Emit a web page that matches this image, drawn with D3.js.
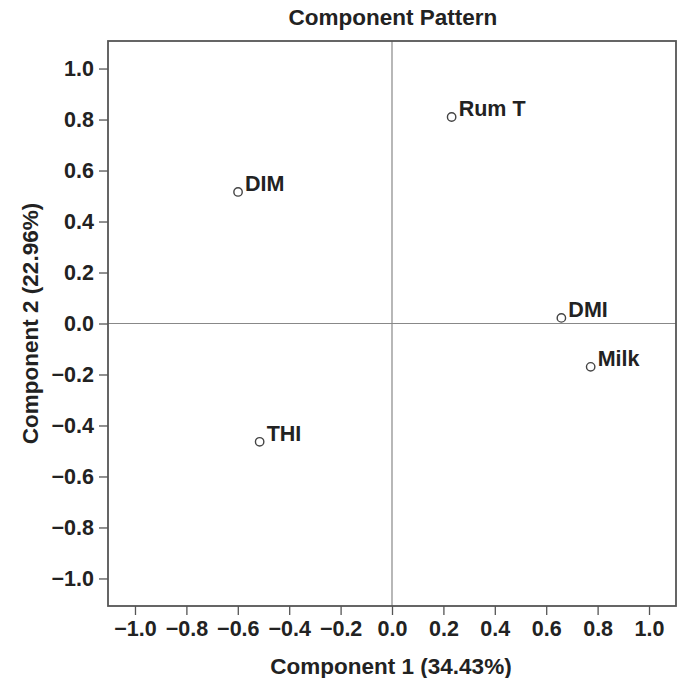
<!DOCTYPE html>
<html>
<head>
<meta charset="utf-8">
<script src="https://cdn.jsdelivr.net/npm/d3@7"></script>
<style>
  body { margin: 0; background: #fff; }
  text { font-family: "Liberation Sans", Arial, sans-serif; font-weight: bold; fill: #222; }
</style>
</head>
<body>
<svg id="chart" width="677" height="678"></svg>
<script>
// variables and their loadings on the first two components
var variables = ["Rum T", "DIM", "DMI", "Milk", "THI"]
var comp1 = [0.232, -0.599, 0.659, 0.773, -0.515]
var comp2 = [0.810, 0.516, 0.022, -0.170, -0.464]
var tickValues = [-1.0, -0.8, -0.6, -0.4, -0.2, 0.0, 0.2, 0.4, 0.6, 0.8, 1.0]

var svg = d3.select("#chart"),
    margin = {top: 41, right: 1, bottom: 72, left: 108},
    width = +svg.attr("width") - margin.left - margin.right,
    height = +svg.attr("height") - margin.top - margin.bottom

var g = svg.append("g")
    .attr("transform", translate(margin.left, margin.top))

var x = d3.scaleLinear()
    .domain([-1.105, 1.105])
    .range([0, width])

var y = d3.scaleLinear()
    .domain([-1.108, 1.108])
    .range([height, 0])

var fmt = function (d) { return d3.format(".1f")(d).replace("-", "\u2013") }

// axes
var xAxis = g.append("g")
    .attr("transform", translate(0, height))
    .call(d3.axisBottom(x).tickValues(tickValues).tickFormat(fmt).tickSize(9).tickPadding(6).tickSizeOuter(0))

var yAxis = g.append("g")
    .call(d3.axisLeft(y).tickValues(tickValues).tickFormat(fmt).tickSize(9).tickPadding(5).tickSizeOuter(0))

;[xAxis, yAxis].forEach(a => {
    a.select(".domain").remove()
    a.selectAll("line").attr("stroke", "#555").attr("stroke-width", 1.3)
    a.selectAll("text").style("font-size", "21.5px").attr("fill", "#222")
})

// zero reference lines
g.append("line")
    .attr("x1", x(0)).attr("x2", x(0))
    .attr("y1", 0).attr("y2", height)
    .attr("stroke", "#888").attr("stroke-width", 1.2)

g.append("line")
    .attr("x1", 0).attr("x2", width)
    .attr("y1", y(0)).attr("y2", y(0))
    .attr("stroke", "#888").attr("stroke-width", 1.2)

// frame
g.append("rect")
    .attr("width", width).attr("height", height)
    .attr("fill", "none").attr("stroke", "#555").attr("stroke-width", 1.8)

// points
var pts = g.append("g").selectAll(".pt")
    .data(variables)
    .enter().append("g")
    .attr("class", "pt")

pts.append("circle")
    .attr("cx", (d, i) => x(comp1[i]))
    .attr("cy", (d, i) => y(comp2[i]))
    .attr("r", 4.2)
    .attr("fill", "#fff")
    .attr("stroke", "#444")
    .attr("stroke-width", 1.4)

pts.append("text")
    .attr("x", (d, i) => x(comp1[i]) + 7)
    .attr("y", (d, i) => y(comp2[i]) - 1)
    .style("font-size", "21.5px")
    .text(d => d)

// titles
svg.append("text")
    .attr("x", 393)
    .attr("y", 25)
    .attr("text-anchor", "middle")
    .style("font-size", "22.5px")
    .text("Component Pattern")

svg.append("text")
    .attr("x", 391)
    .attr("y", 674)
    .attr("text-anchor", "middle")
    .style("font-size", "22.5px")
    .text("Component 1 (34.43%)")

svg.append("text")
    .attr("transform", translate(38, margin.top + height / 2) + " rotate(-90)")
    .attr("text-anchor", "middle")
    .style("font-size", "22.5px")
    .text("Component 2 (22.96%)")

function translate(x, y) {
    return "translate(" + x + "," + y + ")"
}
</script>
</body>
</html>
